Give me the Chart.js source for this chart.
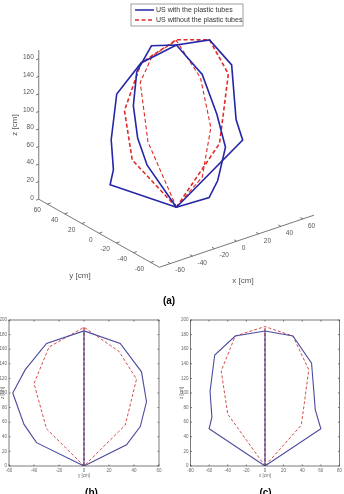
<!DOCTYPE html>
<html>
<head>
<meta charset="utf-8">
<script src="https://cdn.jsdelivr.net/npm/chart.js@4.4.0/dist/chart.umd.min.js"></script>
<style>
body { margin: 0; background: #fff; width: 344px; height: 494px; overflow: hidden; position: relative; }
.pane { position: absolute; }
</style>
</head>
<body>
<div class="pane" style="left:0;top:0"><canvas id="view3d" width="344" height="312"></canvas></div>
<div class="pane" style="left:0;top:312px"><canvas id="viewB" width="172" height="182"></canvas></div>
<div class="pane" style="left:172px;top:312px"><canvas id="viewC" width="172" height="182"></canvas></div>
<script>
// contour in the y-z plane (x = 0), seen flat in view (b)
var tubesYZ_y = [0, -38, -48, -57, -47, -30, 0, 29, 46, 50, 45, 34, 0];
var tubesYZ_z = [0, 32, 57, 100, 132, 168, 185, 168, 129, 88, 54, 29, 0];
var bareYZ_y = [0, -30, -40, -28, 0, 28, 42, 33, 0];
var bareYZ_z = [0, 51, 113, 163, 190, 157, 119, 56, 0];

// contour in the x-z plane (y = 0), seen flat in view (c)
var tubesXZ_x = [0, -60, -57, -59, -54, -32, 0, 30, 50, 54, 60, 0];
var tubesXZ_z = [0, 51, 67, 102, 152, 178, 185, 178, 141, 77, 51, 0];
var bareXZ_x = [0, -40, -47, -32, 0, 30, 47, 42, 39, 0];
var bareXZ_z = [0, 71, 130, 178, 191, 178, 132, 84, 56, 0];

var seriesNames = ["US with the plastic tubes", "US without the plastic tubes"];

// tick labels
var ticks3dXY = [-60, -40, -20, 0, 20, 40, 60];
var ticks3dZ = [0, 20, 40, 60, 80, 100, 120, 140, 160];
var ticksB_x = [-60, -40, -20, 0, 20, 40, 60];
var ticksC_x = [-80, -60, -40, -20, 0, 20, 40, 60, 80];
var ticks2d_z = [0, 20, 40, 60, 80, 100, 120, 140, 160, 180, 200];

var FONT = '"Liberation Sans", Arial, sans-serif';
var BLUE3D = '#2626a6', RED3D = '#e02a2a';
var BLUE2D = '#4a4a9c', RED2D = '#cc3b3b';

// view used by the 3d panel (az/el)
function project(x, y, z) {
    return { x: 1.105 * x - 0.861 * y, y: 0.372 * x + 0.486 * y + 0.877 * z };
}

function pts3d(xs, ys, zs) {
    var out = [];
    for (var i = 0; i < zs.length; i++) {
        out.push(project(xs ? xs[i] : 0, ys ? ys[i] : 0, zs[i]));
    }
    return out;
}

function pts2d(hs, zs) {
    var out = [];
    for (var i = 0; i < zs.length; i++) {
        out.push({ x: hs ? hs[i] : 0, y: zs[i] });
    }
    return out;
}

function line(data, color, width, dash) {
    return {
        data: data, showLine: true, fill: false, pointRadius: 0,
        borderColor: color, borderWidth: width, borderDash: dash || [],
        tension: 0
    };
}

// axes, ticks, labels and legend of the 3d panel
var axes3d = {
    id: 'axes3d',
    beforeDatasetsDraw: function(chart) {
        var ctx = chart.ctx, sx = chart.scales.x, sy = chart.scales.y;
        function pt(x, y, z) {
            var p = project(x, y, z);
            return [sx.getPixelForValue(p.x), sy.getPixelForValue(p.y)];
        }
        function seg(a, b) {
            ctx.beginPath(); ctx.moveTo(a[0], a[1]); ctx.lineTo(b[0], b[1]); ctx.stroke();
        }
        ctx.save();
        ctx.strokeStyle = '#555';
        ctx.lineWidth = 0.8;
        seg(pt(-70, -70, 0), pt(70, -70, 0));
        seg(pt(-70, -70, 0), pt(-70, 70, 0));
        seg(pt(-70, 70, 0), pt(-70, 70, 170));

        ctx.fillStyle = '#555';
        ctx.font = '6.5px ' + FONT;
        ctx.textBaseline = 'middle';
        ticks3dXY.forEach(function(v) {
            var p = pt(v, -70, 0);
            seg(p, pt(v, -67, 0));
            ctx.textAlign = 'left';
            ctx.fillText(String(v), p[0] + 5, p[1] + 7);
            var q = pt(-70, v, 0);
            seg(q, pt(-67, v, 0));
            ctx.textAlign = 'right';
            ctx.fillText(String(v), q[0] - 6.5, q[1] + 6.5);
        });
        ticks3dZ.forEach(function(v) {
            var p = pt(-70, 70, v);
            seg(p, pt(-72.5, 70, v));
            ctx.textAlign = 'right';
            ctx.fillText(String(v), p[0] - 5, p[1] - 1.5);
        });

        ctx.font = '8px ' + FONT;
        ctx.textAlign = 'center';
        ctx.fillText('x [cm]', 243, 281);
        ctx.fillText('y [cm]', 80, 276);
        ctx.save();
        ctx.translate(15, 125);
        ctx.rotate(-Math.PI / 2);
        ctx.fillText('z [cm]', 0, 0);
        ctx.restore();

        ctx.fillStyle = '#000';
        ctx.font = 'bold 10px ' + FONT;
        ctx.fillText('(a)', 169, 301);
        ctx.restore();
    },
    afterDraw: function(chart) {
        var ctx = chart.ctx;
        ctx.save();
        ctx.fillStyle = '#fff';
        ctx.fillRect(131, 4, 112, 22);
        ctx.strokeStyle = '#888';
        ctx.lineWidth = 0.8;
        ctx.strokeRect(131, 4, 112, 22);
        ctx.lineWidth = 1.5;
        ctx.strokeStyle = BLUE3D;
        ctx.beginPath(); ctx.moveTo(135, 10); ctx.lineTo(154, 10); ctx.stroke();
        ctx.strokeStyle = RED3D;
        ctx.setLineDash([4, 2.5]);
        ctx.beginPath(); ctx.moveTo(135, 20); ctx.lineTo(154, 20); ctx.stroke();
        ctx.setLineDash([]);
        ctx.fillStyle = '#333';
        ctx.font = '7px ' + FONT;
        ctx.textAlign = 'left';
        ctx.textBaseline = 'middle';
        ctx.fillText(seriesNames[0], 156, 10);
        ctx.fillText(seriesNames[1], 156, 20);
        ctx.restore();
    }
};

// box, inward ticks, axis titles and panel letter of the 2d views
var frame2d = {
    id: 'frame2d',
    afterDraw: function(chart, args, opts) {
        var ctx = chart.ctx, a = chart.chartArea, sx = chart.scales.x, sy = chart.scales.y;
        ctx.save();
        ctx.strokeStyle = '#444';
        ctx.lineWidth = 0.7;
        ctx.strokeRect(a.left, a.top, a.right - a.left, a.bottom - a.top);
        ctx.beginPath();
        sx.ticks.forEach(function(t) {
            var px = sx.getPixelForValue(t.value);
            ctx.moveTo(px, a.bottom); ctx.lineTo(px, a.bottom - 1.5);
            ctx.moveTo(px, a.top); ctx.lineTo(px, a.top + 1.5);
        });
        sy.ticks.forEach(function(t) {
            var py = sy.getPixelForValue(t.value);
            ctx.moveTo(a.left, py); ctx.lineTo(a.left + 1.5, py);
            ctx.moveTo(a.right, py); ctx.lineTo(a.right - 1.5, py);
        });
        ctx.stroke();

        ctx.fillStyle = '#666';
        ctx.font = '4.5px ' + FONT;
        ctx.textAlign = 'center';
        ctx.textBaseline = 'middle';
        ctx.fillText(opts.xTitle, (a.left + a.right) / 2, a.bottom + 9.5);
        ctx.save();
        ctx.translate(opts.yTitleX, (a.top + a.bottom) / 2);
        ctx.rotate(-Math.PI / 2);
        ctx.fillText(opts.yTitle, 0, 0);
        ctx.restore();

        ctx.fillStyle = '#000';
        ctx.font = 'bold 10px ' + FONT;
        ctx.fillText(opts.letter, opts.letterX, chart.height - 1);
        ctx.restore();
    }
};

new Chart(document.getElementById('view3d'), {
    type: 'scatter',
    data: {
        datasets: [
            line(pts3d(tubesXZ_x, null, tubesXZ_z), BLUE3D, 1.6),
            line(pts3d(null, tubesYZ_y, tubesYZ_z), BLUE3D, 1.6),
            line(pts3d(bareXZ_x, null, bareXZ_z), RED3D, 1.6, [4, 2.5]),
            line(pts3d(null, bareYZ_y, bareYZ_z), RED3D, 1.1, [4, 2.5])
        ]
    },
    options: {
        responsive: false,
        animation: false,
        layout: { padding: 0 },
        plugins: { legend: { display: false }, tooltip: { enabled: false } },
        scales: {
            x: { type: 'linear', display: false, min: -176.4, max: 167.6 },
            y: { type: 'linear', display: false, min: -104.8, max: 207.2 }
        }
    },
    plugins: [axes3d]
});

function flatView(id, hTicks, hMin, hMax, padLeft, padRight, datasets, frameOpts) {
    var tickFont = { size: 4.5, family: FONT };
    return new Chart(document.getElementById(id), {
        type: 'scatter',
        data: { datasets: datasets },
        options: {
            responsive: false,
            animation: false,
            layout: { padding: { top: 8, right: padRight, bottom: 0, left: 0 } },
            plugins: { legend: { display: false }, tooltip: { enabled: false }, frame2d: frameOpts },
            scales: {
                x: {
                    type: 'linear', min: hMin, max: hMax,
                    afterBuildTicks: function(s) { s.ticks = hTicks.map(function(v) { return { value: v }; }); },
                    afterFit: function(s) { s.height = 28; },
                    grid: { display: false, drawTicks: false },
                    border: { display: false },
                    ticks: { padding: 2, font: tickFont, color: '#666', maxRotation: 0, autoSkip: false }
                },
                y: {
                    type: 'linear', min: 0, max: 200,
                    afterBuildTicks: function(s) { s.ticks = ticks2d_z.map(function(v) { return { value: v }; }); },
                    afterFit: function(s) { s.width = padLeft; },
                    grid: { display: false, drawTicks: false },
                    border: { display: false },
                    ticks: { padding: 2, font: tickFont, color: '#666', autoSkip: false }
                }
            }
        },
        plugins: [frame2d]
    });
}

flatView('viewB', ticksB_x, -60, 60, 9, 13, [
    line(pts2d(null, tubesXZ_z), BLUE2D, 1.1),
    line(pts2d(tubesYZ_y, tubesYZ_z), BLUE2D, 1.1),
    line(pts2d(null, bareXZ_z), RED2D, 0.9, [3, 2]),
    line(pts2d(bareYZ_y, bareYZ_z), RED2D, 0.9, [3, 2])
], { xTitle: 'y [cm]', yTitle: 'z [cm]', yTitleX: 3, letter: '(b)', letterX: 91.5 });

flatView('viewC', ticksC_x, -80, 80, 18.5, 2, [
    line(pts2d(null, tubesYZ_z), BLUE2D, 1.1),
    line(pts2d(tubesXZ_x, tubesXZ_z), BLUE2D, 1.1),
    line(pts2d(null, bareYZ_z), RED2D, 0.9, [3, 2]),
    line(pts2d(bareXZ_x, bareXZ_z), RED2D, 0.9, [3, 2])
], { xTitle: 'x [cm]', yTitle: 'z [cm]', yTitleX: 10, letter: '(c)', letterX: 93.5 });
</script>
</body>
</html>
